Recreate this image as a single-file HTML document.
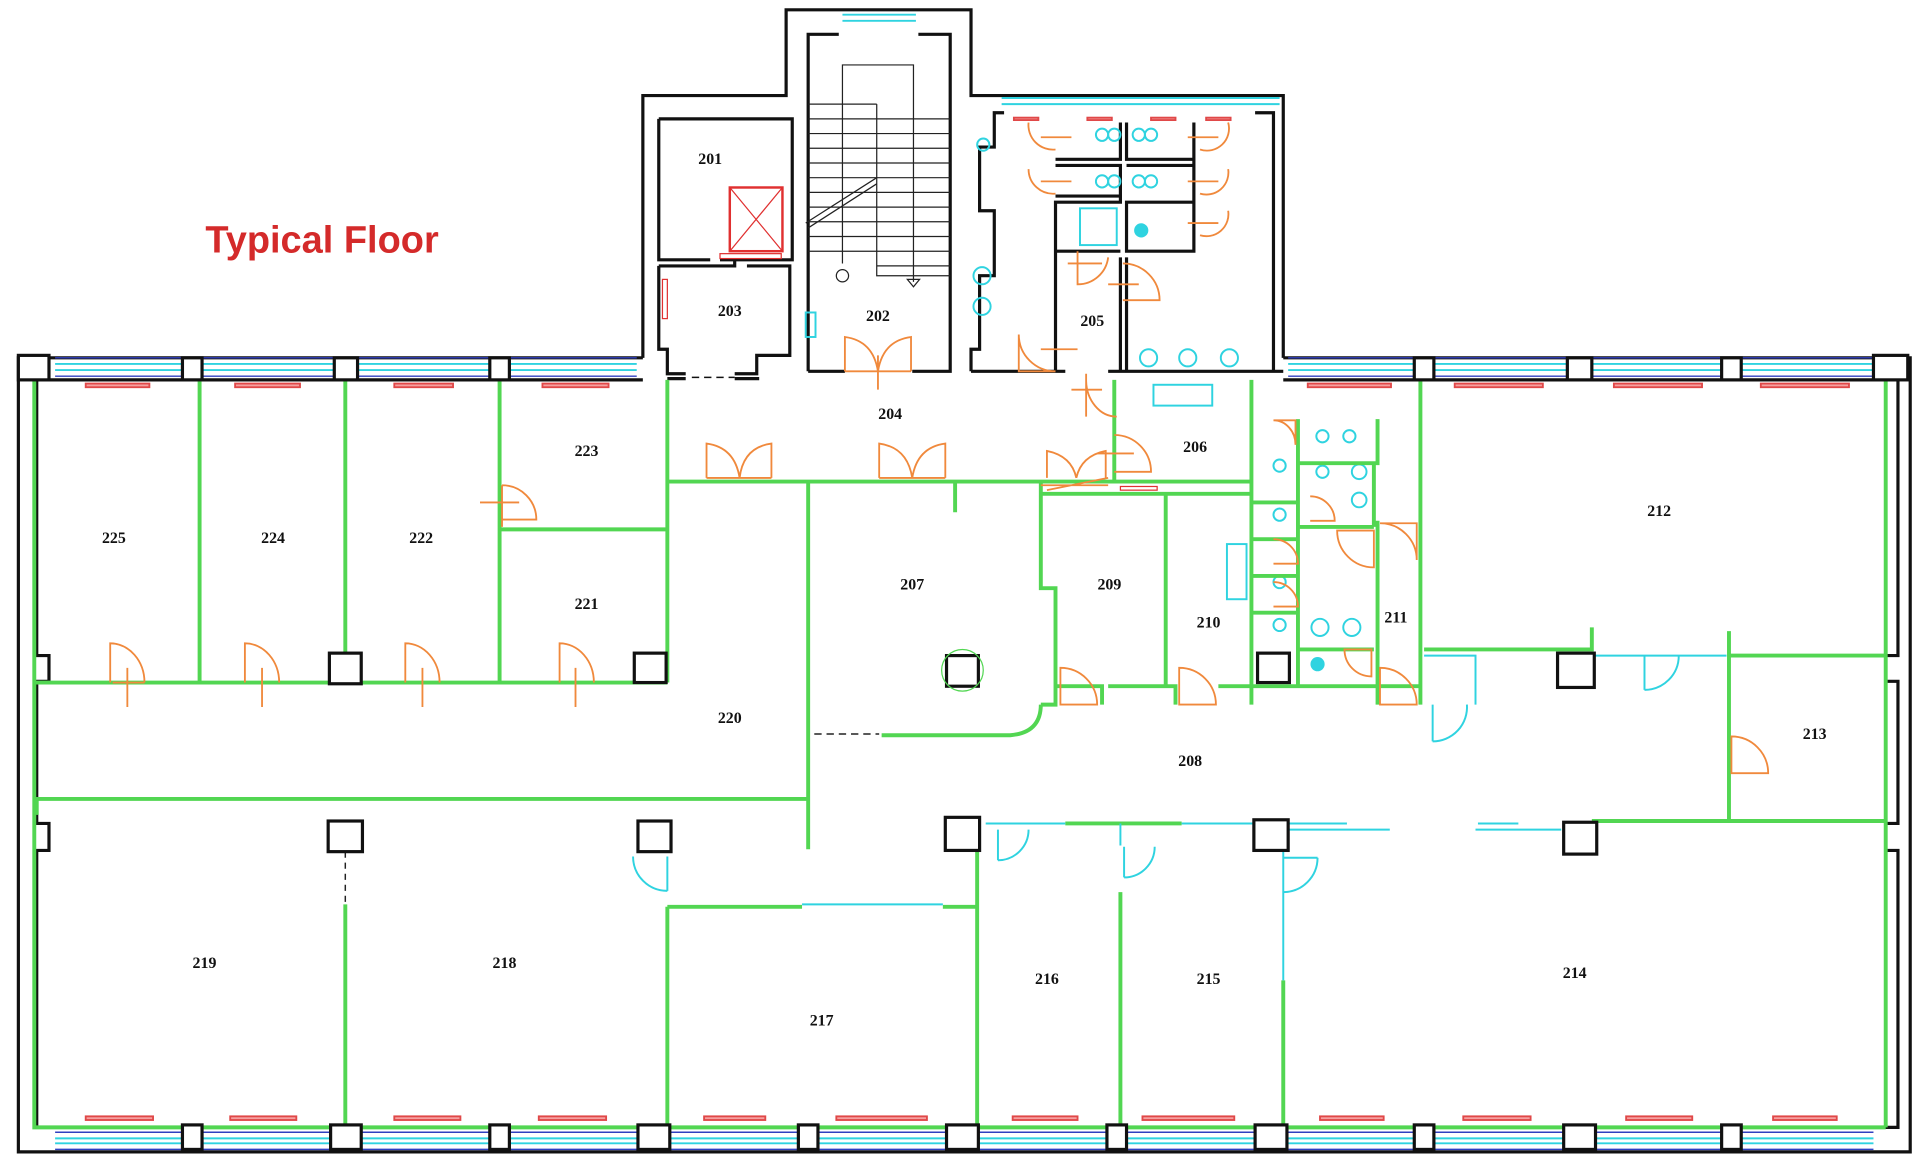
<!DOCTYPE html>
<html><head><meta charset="utf-8"><style>
html,body{margin:0;padding:0;background:#fff;width:1920px;height:1158px;overflow:hidden}
svg{display:block}
text{font-family:"Liberation Serif",serif;font-weight:bold;font-size:13px;fill:#111;text-anchor:middle}
.g{stroke:#52d652;stroke-width:3.2;fill:none}
.k{stroke:#111;stroke-width:2.6;fill:none}
.c{stroke:#2fd3e0;stroke-width:1.6;fill:none}
.o{stroke:#f0893c;stroke-width:1.5;fill:none}
.r{stroke:#e04848;stroke-width:1.5;fill:#f5a0a0}
.col{stroke:#111;stroke-width:2.6;fill:#fff}
</style></head><body>
<svg width="1920" height="1158" viewBox="0 0 1568 945" preserveAspectRatio="none">
<!-- Outer walls -->
<path class="k" d="M525,292 L525,78 L642,78 L642,8 L793,8 L793,78 L1048,78 L1048,292"/>
<path class="k" d="M525,292 L15,292 L15,940 L1560,940 L1560,292 L1048,292"/>
<path class="k" d="M30,310 L30,535 L40,535 L40,556 L30,556 L30,672 L40,672 L40,694 L30,694 L30,920 L1550,920 L1550,694 L1540,694 L1540,672 L1550,672 L1550,556 L1540,556 L1540,535 L1550,535 L1550,310 L1048,310"/>
<path class="k" d="M30,310 L525,310"/>
<!-- top windows -->
<g>
<path d="M45,292H520 M1052,292H1530" stroke="#3040c0" stroke-width="1.2"/>
<path d="M45,297H520 M45,302H520 M1052,297H1530 M1052,302H1530" class="c"/>
<path d="M45,307H520 M1052,307H1530" stroke="#3040c0" stroke-width="1.2"/>
<path d="M45,924H1530" stroke="#3040c0" stroke-width="1.2"/>
<path d="M45,929H1530 M45,933H1530" class="c"/>
<path d="M45,938H1530" stroke="#3040c0" stroke-width="1.2"/>
<path d="M688,12H748 M688,17H748" class="c"/>
<path d="M818,80H1045 M818,85H1045" class="c"/>
</g>
<!-- red marks -->
<g class="r">
<rect x="70" y="313" width="52" height="3"/><rect x="192" y="313" width="53" height="3"/><rect x="322" y="313" width="48" height="3"/><rect x="443" y="313" width="54" height="3"/>
<rect x="1068" y="313" width="68" height="3"/><rect x="1188" y="313" width="72" height="3"/><rect x="1318" y="313" width="72" height="3"/><rect x="1438" y="313" width="72" height="3"/>
<rect x="70" y="911" width="55" height="3"/><rect x="188" y="911" width="54" height="3"/><rect x="322" y="911" width="54" height="3"/><rect x="440" y="911" width="55" height="3"/><rect x="575" y="911" width="50" height="3"/><rect x="683" y="911" width="74" height="3"/><rect x="827" y="911" width="53" height="3"/><rect x="933" y="911" width="75" height="3"/><rect x="1078" y="911" width="52" height="3"/><rect x="1195" y="911" width="55" height="3"/><rect x="1328" y="911" width="54" height="3"/><rect x="1448" y="911" width="52" height="3"/>
<rect x="828" y="96" width="20" height="2"/><rect x="888" y="96" width="20" height="2"/><rect x="940" y="96" width="20" height="2"/><rect x="985" y="96" width="20" height="2"/>
</g>
<!-- annex interior -->
<path class="k" d="M538,97H647V212H588 M538,97V212H580 M538,217H600V212 M538,217V285H545V305H560 M600,305H618V290H645V217 H610"/>
<path class="k" d="M660,303V28H685 M750,28H776V303H745 M660,303H690"/>
<path class="k" d="M793,303V285H800V225H812V172H800V120H812V92H820 M1040,303V92H1025 M793,303H870 M905,303H1048"/>
<path class="k" d="M862,303V165H915V135H862 M862,130H915V100 M862,160H915 M920,100V130H975 M920,135H975V160 M920,165H975V205H920Z M862,205H915 M915,210V303 M920,210V303 M975,205V100"/>
<path class="k" d="M560,309H545 M600,309H620" />
<path d="M565,308H600" stroke="#111" stroke-width="1.2" stroke-dasharray="6,4"/>
<!-- elevator -->
<rect x="596" y="153" width="43" height="52" fill="none" stroke="#e03030" stroke-width="2"/>
<path d="M596,153L639,205M639,153L596,205" stroke="#e03030" stroke-width="1"/>
<rect x="588" y="207" width="50" height="4" fill="none" stroke="#e03030" stroke-width="1"/>
<rect x="541" y="228" width="4" height="32" fill="none" stroke="#e03030" stroke-width="1"/>
<!-- stairs -->
<g stroke="#222" stroke-width="1" fill="none">
<path d="M688,215V53H746V230"/>
<path d="M660,85H716 M660,97H716 M660,109H716 M660,121H716 M660,133H716 M660,145H716 M660,157H716 M660,169H716 M660,181H716 M660,193H716 M660,205H716 M716,85V225H776 M716,97H776 M716,109H776 M716,121H776 M716,133H776 M716,145H776 M716,157H776 M716,169H776 M716,181H776 M716,193H776 M716,205H776 M716,217H776"/>
<path d="M658,182L716,145 M660,186L716,150"/>
<circle cx="688" cy="225" r="5"/><path d="M741,228H751L746,234Z"/>
</g>
<!-- toilet fixtures (cyan) -->
<g class="c">
<circle cx="900" cy="110" r="5"/><circle cx="910" cy="110" r="5"/><circle cx="930" cy="110" r="5"/><circle cx="940" cy="110" r="5"/>
<circle cx="900" cy="148" r="5"/><circle cx="910" cy="148" r="5"/><circle cx="930" cy="148" r="5"/><circle cx="940" cy="148" r="5"/>
<rect x="882" y="170" width="30" height="30"/><circle cx="932" cy="188" r="5" fill="#2fd3e0"/>
<circle cx="802" cy="225" r="7"/><circle cx="802" cy="250" r="7"/><circle cx="803" cy="118" r="5"/>
<circle cx="938" cy="292" r="7"/><circle cx="970" cy="292" r="7"/><circle cx="1004" cy="292" r="7"/>
<rect x="942" y="314" width="48" height="17"/>
<rect x="658" y="255" width="8" height="20"/>
<circle cx="1080" cy="356" r="5"/><circle cx="1102" cy="356" r="5"/>
<circle cx="1045" cy="380" r="5"/><circle cx="1045" cy="420" r="5"/><circle cx="1045" cy="475" r="5"/><circle cx="1045" cy="510" r="5"/>
<circle cx="1080" cy="385" r="5"/><circle cx="1110" cy="385" r="6"/><circle cx="1110" cy="408" r="6"/>
<circle cx="1078" cy="512" r="7"/><circle cx="1104" cy="512" r="7"/><circle cx="1076" cy="542" r="5" fill="#2fd3e0"/>
<rect x="1002" y="444" width="16" height="45"/>
</g>
<!-- green interior walls -->
<g class="g">
<path d="M28,310V920H1540 M1540,310V920"/>
<path d="M163,310V557 M282,310V540 M408,310V557 M545,310V557 M28,557H545 M408,432H545"/>
<path d="M28,652H660 M660,393V693 M545,393H1022 M780,393V418"/>
<path d="M850,393V480H862V575H850 M850,403H1022 M952,403V560 M862,560H900V575 M905,560H960V575 M995,560H1022V575 M1022,310V575 M1022,560H1160 M910,310V393"/>
<path d="M1060,342V378H1125V342 M1060,378V560 M1060,430H1122 M1122,378V430 M1125,425V575 M1160,310V575 M1022,410H1060 M1022,440H1060 M1022,470H1060 M1022,500H1060 M1060,530H1122"/>
<path d="M1163,530H1300V512 M1412,515V670 M1412,535H1540 M1300,670H1540"/>
<path d="M870,672H965"/>
<path d="M545,740H655 M770,740H798 M545,740V920 M798,692V920 M915,728V920 M1048,800V920 M282,738V920"/>
<path d="M720,600H825Q850,598 850,575"/>
<path d="M30,652V665 M545,672V690"/>
</g>
<!-- dashed -->
<path d="M665,599H718" stroke="#222" stroke-width="1.2" stroke-dasharray="6,4"/>
<path d="M282,695V737" stroke="#222" stroke-width="1.2" stroke-dasharray="5,4"/>
<!-- cyan partitions -->
<g class="c">
<path d="M805,672H870 M965,672H1025 M1052,672H1100 M1052,677H1135 M1207,672H1240 M1205,677H1275 M1300,535H1410 M655,738H770 M1163,535H1205V575 M1048,690V800"/>
<path d="M815,702A25,25 0 0 0 840,677 M815,677V702"/>
<path d="M918,716A25,25 0 0 0 943,691 M918,691V716 M915,672V690"/>
<path d="M1048,728A28,28 0 0 0 1076,700 M1048,700H1076"/>
<path d="M1343,563A28,28 0 0 0 1371,535 M1343,535V563"/>
<path d="M1170,605A28,28 0 0 0 1198,575 M1170,575V605"/>
<path d="M545,727A28,28 0 0 1 517,699 M545,699V727"/>
</g>
<!-- doors orange -->
<g class="o">
<path d="M90,557V525A28,32 0 0 1 118,557 M104,545V577 M92,557H118"/>
<path d="M200,557V525A28,32 0 0 1 228,557 M214,545V577"/>
<path d="M331,557V525A28,32 0 0 1 359,557 M345,545V577"/>
<path d="M457,557V525A28,32 0 0 1 485,557 M470,545V577"/>
<path d="M410,396A28,28 0 0 1 438,424H410 M392,410H424 M410,396V430"/>
<path d="M577,390V362Q600,365 604,390 M630,390V362Q607,365 604,390 M577,390H630"/>
<path d="M718,390V362Q741,365 745,390 M772,390V362Q749,365 745,390 M718,390H772"/>
<path d="M855,390V368Q875,372 879,390 M903,390V368Q883,372 879,390 M850,396H905 M855,400L905,390"/>
<path d="M690,303V275Q713,278 717,303 M744,303V275Q721,278 717,303 M690,303H744 M717,290V318"/>
<path d="M910,355A30,30 0 0 1 940,385H910 M896,370H926"/>
<path d="M862,303A30,30 0 0 1 832,273V303H862 M850,285H880"/>
<path d="M887,310A25,30 0 0 0 912,340 M887,305V340 M875,318H900"/>
<path d="M880,205V232A25,25 0 0 0 905,210 M872,215H900"/>
<path d="M917,215A30,30 0 0 1 947,245H917 M905,232H930"/>
<path d="M840,100A20,20 0 0 0 862,122 M850,112H875 M840,138A20,20 0 0 0 862,158 M850,148H875"/>
<path d="M1003,100A18,18 0 0 1 980,122 M970,112H995 M1003,138A18,18 0 0 1 980,158 M970,148H995 M1003,172A18,18 0 0 1 980,192 M970,182H995"/>
<path d="M866,575V545A30,30 0 0 1 896,575Z"/>
<path d="M963,575V545A30,30 0 0 1 993,575Z"/>
<path d="M1127,575V545A30,30 0 0 1 1157,575Z"/>
<path d="M1127,427A30,30 0 0 1 1157,457V427Z"/>
<path d="M1092,433A30,30 0 0 0 1122,463V433Z"/>
<path d="M1098,530A22,22 0 0 0 1120,552V530Z"/>
<path d="M1040,343A18,20 0 0 1 1058,363V343Z M1070,405A20,20 0 0 1 1090,425H1070 M1040,440A20,20 0 0 1 1060,460H1040 M1040,475A20,20 0 0 1 1060,495H1040"/>
<path d="M1414,601A30,30 0 0 1 1444,631H1414Z"/>
</g>
<rect x="915" y="397" width="30" height="3" fill="none" stroke="#e03030" stroke-width="1"/>
<!-- columns -->
<g class="col">
<rect x="149" y="292" width="16" height="18"/><rect x="273" y="292" width="19" height="18"/><rect x="400" y="292" width="16" height="18"/>
<rect x="1155" y="292" width="16" height="18"/><rect x="1280" y="292" width="20" height="18"/><rect x="1406" y="292" width="16" height="18"/>
<rect x="15" y="290" width="25" height="20"/><rect x="1530" y="290" width="28" height="20"/>
<rect x="149" y="918" width="16" height="20"/><rect x="270" y="918" width="25" height="20"/><rect x="400" y="918" width="16" height="20"/><rect x="521" y="918" width="26" height="20"/><rect x="652" y="918" width="16" height="20"/><rect x="773" y="918" width="26" height="20"/><rect x="904" y="918" width="16" height="20"/><rect x="1025" y="918" width="26" height="20"/><rect x="1155" y="918" width="16" height="20"/><rect x="1277" y="918" width="26" height="20"/><rect x="1406" y="918" width="16" height="20"/>
<rect x="269" y="533" width="26" height="25"/><rect x="518" y="533" width="26" height="24"/><rect x="773" y="535" width="26" height="25"/><rect x="1027" y="533" width="26" height="24"/><rect x="1272" y="533" width="30" height="28"/>
<rect x="268" y="670" width="28" height="25"/><rect x="521" y="670" width="27" height="25"/><rect x="772" y="667" width="28" height="27"/><rect x="1024" y="669" width="28" height="25"/><rect x="1277" y="671" width="27" height="26"/>
</g>
<circle cx="786" cy="547" r="17" fill="none" stroke="#52d652" stroke-width="1"/>
<!-- labels -->
<text x="580" y="134">201</text><text x="717" y="262">202</text><text x="596" y="258">203</text>
<text x="727" y="342">204</text><text x="892" y="266">205</text><text x="976" y="369">206</text>
<text x="745" y="481">207</text><text x="972" y="625">208</text><text x="906" y="481">209</text>
<text x="987" y="512">210</text><text x="1140" y="508">211</text><text x="1355" y="421">212</text>
<text x="1482" y="603">213</text><text x="1286" y="798">214</text><text x="987" y="803">215</text>
<text x="855" y="803">216</text><text x="671" y="837">217</text><text x="412" y="790">218</text>
<text x="167" y="790">219</text><text x="596" y="590">220</text><text x="479" y="497">221</text>
<text x="344" y="443">222</text><text x="479" y="372">223</text><text x="223" y="443">224</text>
<text x="93" y="443">225</text>
<text x="263" y="206" style="font-family:'Liberation Sans',sans-serif;font-size:31px;fill:#d42a2a">Typical Floor</text>
</svg>
</body></html>
